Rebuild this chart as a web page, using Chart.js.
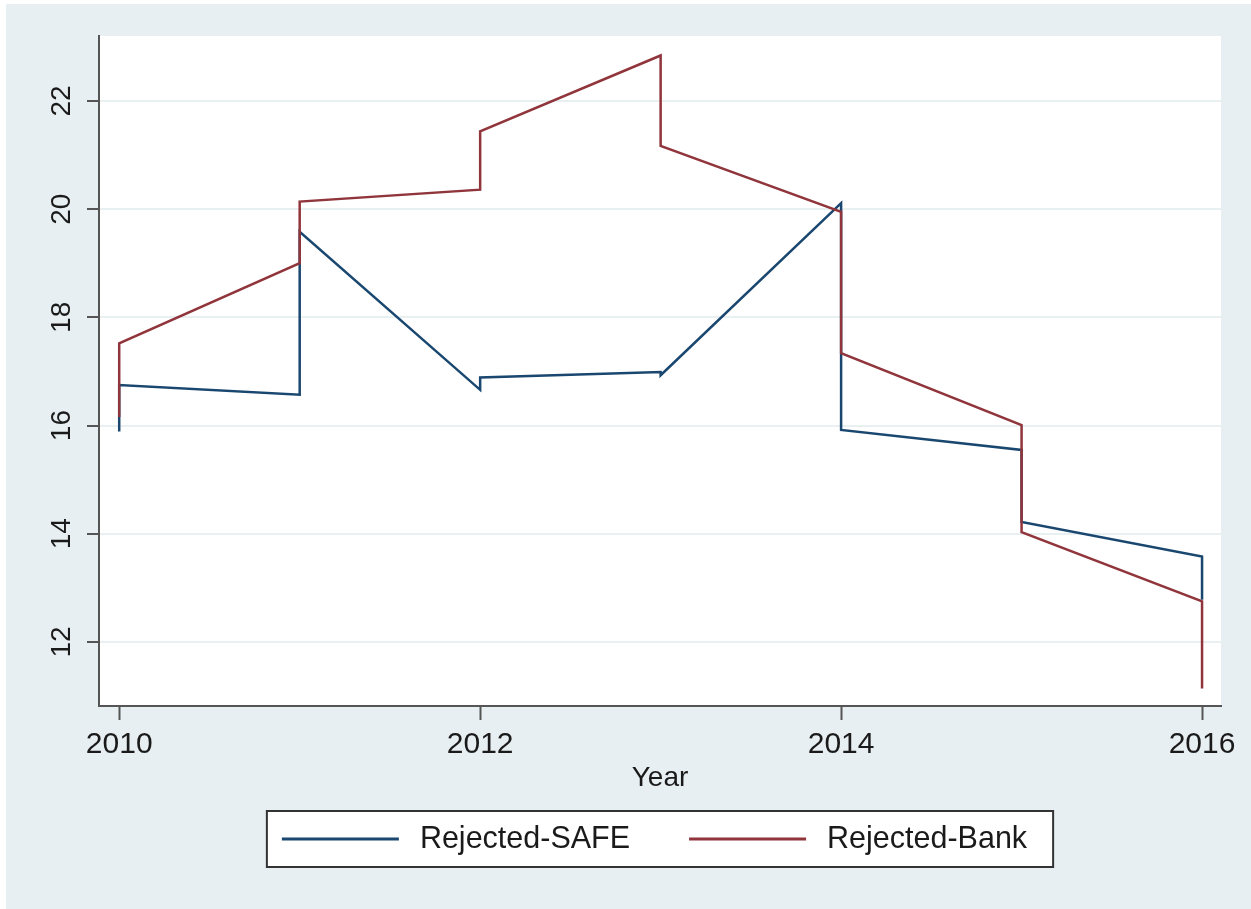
<!DOCTYPE html>
<html>
<head>
<meta charset="utf-8">
<script src="https://cdn.jsdelivr.net/npm/chart.js@4/dist/chart.umd.min.js"></script>
<style>
  html, body { margin: 0; padding: 0; background: #ffffff; }
  canvas { display: block; }
</style>
</head>
<body>
<canvas id="chart" width="1251" height="909"></canvas>
<script>
// Survey waves: two observations per year
const waveYears = [2010, 2010, 2011, 2011, 2012, 2012, 2013, 2013, 2014, 2014, 2015, 2015, 2016, 2016];
const rejectedSafe = [15.89, 16.75, 16.57, 19.58, 16.66, 16.89, 16.99, 16.93, 20.11, 15.92, 15.55, 14.22, 13.58, 12.78];
const rejectedBank = [16.16, 17.52, 19.00, 20.14, 20.36, 21.44, 22.84, 21.17, 19.95, 17.34, 16.01, 14.03, 12.75, 11.14];
const seriesNames = ['Rejected-SAFE', 'Rejected-Bank'];
const xTickYears = [2010, 2012, 2014, 2016];
const yTickValues = [12, 14, 16, 18, 20, 22];
const xAxisTitle = 'Year';

const FONT = "'Liberation Sans', Arial, Helvetica, sans-serif";
const TEXT = '#1a1a1a';
const AXIS = '#555555';
const OUTER_BG = '#e8eff2';
const GRID = '#e9f0f2';

const toPoints = (vals) => vals.map((v, i) => ({ x: waveYears[i], y: v }));

// Graph region background and white plot region
const backdrop = {
  id: 'backdrop',
  beforeDraw(chart) {
    const { ctx, width, height, chartArea } = chart;
    ctx.save();
    ctx.fillStyle = '#ffffff';
    ctx.fillRect(0, 0, width, height);
    ctx.fillStyle = OUTER_BG;
    ctx.fillRect(6, 4, width - 6, height - 4);
    ctx.fillStyle = '#ffffff';
    ctx.fillRect(chartArea.left, chartArea.top, chartArea.right - chartArea.left, chartArea.bottom - chartArea.top);
    ctx.restore();
  }
};

// Boxed legend below the axis title
const boxedLegend = {
  id: 'boxedLegend',
  afterDraw(chart) {
    const { ctx, chartArea } = chart;
    ctx.save();
    ctx.font = '30.5px ' + FONT;
    const padL = 15, padR = 26, lineLen = 117, gap = 21, itemGap = 59, h = 56;
    const items = chart.data.datasets.map(d => ({
      label: d.label, color: d.borderColor, w: ctx.measureText(d.label).width
    }));
    const total = padL + padR + items.reduce((s, it) => s + lineLen + gap + it.w, 0) + itemGap * (items.length - 1);
    const cx = (chartArea.left + chartArea.right) / 2;
    const left = cx - total / 2;
    const top = chart.scales.x.bottom + 16;
    ctx.fillStyle = '#ffffff';
    ctx.fillRect(left, top, total, h);
    ctx.strokeStyle = '#333333';
    ctx.lineWidth = 2;
    ctx.strokeRect(left, top, total, h);
    const cy = top + h / 2;
    let x = left + padL;
    items.forEach((it) => {
      ctx.strokeStyle = it.color;
      ctx.lineWidth = 3;
      ctx.beginPath();
      ctx.moveTo(x, cy);
      ctx.lineTo(x + lineLen, cy);
      ctx.stroke();
      x += lineLen + gap;
      ctx.fillStyle = TEXT;
      ctx.textAlign = 'left';
      ctx.textBaseline = 'middle';
      ctx.fillText(it.label, x, cy + 1);
      x += it.w + itemGap;
    });
    ctx.restore();
  }
};

Chart.defaults.font.family = FONT;
Chart.defaults.color = TEXT;

new Chart(document.getElementById('chart'), {
  type: 'line',
  data: {
    datasets: [
      {
        label: seriesNames[0],
        data: toPoints(rejectedSafe),
        borderColor: '#1a476f',
        borderWidth: 2.5,
        pointRadius: 0,
        tension: 0,
        fill: false,
        order: 1
      },
      {
        label: seriesNames[1],
        data: toPoints(rejectedBank),
        borderColor: '#90353b',
        borderWidth: 2.5,
        pointRadius: 0,
        tension: 0,
        fill: false,
        order: 0
      }
    ]
  },
  options: {
    responsive: false,
    animation: false,
    events: [],
    layout: { padding: { left: 0, right: 30, top: 36, bottom: 114 } },
    plugins: {
      legend: { display: false },
      tooltip: { enabled: false }
    },
    scales: {
      x: {
        type: 'linear',
        min: 2009.888,
        max: 2016.105,
        afterBuildTicks: (scale) => { scale.ticks = xTickYears.map(v => ({ value: v })); },
        afterFit: (scale) => { scale.height = 89; },
        ticks: {
          font: { size: 30 },
          color: TEXT,
          padding: 7,
          maxRotation: 0,
          minRotation: 0,
          callback: (v) => String(v)
        },
        grid: {
          drawOnChartArea: false,
          drawTicks: true,
          tickLength: 14,
          tickColor: AXIS,
          tickWidth: 2
        },
        border: { display: true, color: AXIS, width: 2 },
        title: {
          display: true,
          text: xAxisTitle,
          font: { size: 28 },
          color: TEXT,
          padding: { top: 0, bottom: 0 }
        }
      },
      y: {
        type: 'linear',
        min: 10.817,
        max: 23.2,
        afterBuildTicks: (scale) => { scale.ticks = yTickValues.map(v => ({ value: v })); },
        afterFit: (scale) => { scale.width = 99; },
        ticks: {
          font: { size: 28 },
          color: TEXT,
          padding: 9,
          minRotation: 90,
          maxRotation: 90,
          crossAlign: 'center',
          callback: (v) => String(v)
        },
        grid: {
          color: GRID,
          lineWidth: 2,
          drawTicks: true,
          tickLength: 12,
          tickColor: AXIS,
          tickWidth: 2
        },
        border: { display: true, color: AXIS, width: 2 }
      }
    }
  },
  plugins: [backdrop, boxedLegend]
});
</script>
</body>
</html>
